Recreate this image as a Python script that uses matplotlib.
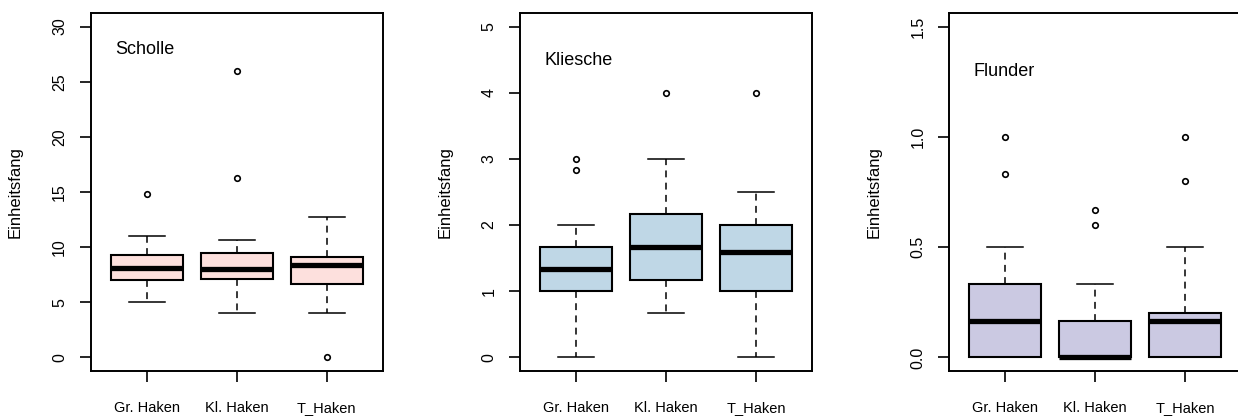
import numpy as np
import matplotlib.pyplot as plt

plt.rcParams['font.family'] = ['Liberation Sans', 'DejaVu Sans']

stellen = ['Gr. Haken', 'Kl. Haken', 'T_Haken']

# Scholle
scholle_q1 = [7.0, 7.13, 6.68]
scholle_med = [8.13, 8.0, 8.35]
scholle_q3 = [9.31, 9.46, 9.1]
scholle_lo = [5.0, 4.0, 4.0]
scholle_hi = [11.0, 10.64, 12.7]
scholle_out = [[14.8], [16.3, 26.0], [0.0]]

# Kliesche
kliesche_q1 = [1.0, 1.167, 1.0]
kliesche_med = [1.333, 1.667, 1.6]
kliesche_q3 = [1.667, 2.167, 2.0]
kliesche_lo = [0.0, 0.667, 0.0]
kliesche_hi = [2.0, 3.0, 2.5]
kliesche_out = [[2.833, 3.0], [4.0], [4.0]]

# Flunder
flunder_q1 = [0.0, 0.0, 0.0]
flunder_med = [0.167, 0.0, 0.167]
flunder_q3 = [0.333, 0.167, 0.2]
flunder_lo = [0.0, 0.0, 0.0]
flunder_hi = [0.5, 0.333, 0.5]
flunder_out = [[0.833, 1.0], [0.6, 0.667], [0.8, 1.0]]


def box_stats(q1, med, q3, lo, hi, out):
    stats = []
    for i in range(len(stellen)):
        stats.append({'q1': q1[i], 'med': med[i], 'q3': q3[i],
                      'whislo': lo[i], 'whishi': hi[i],
                      'fliers': np.array(out[i]), 'label': stellen[i]})
    return stats


def panel(ax, stats, farbe, name, ymax, yticks, ylabels, text_y):
    ax.bxp(stats, positions=[1, 2, 3], widths=0.8, capwidths=0.4,
           patch_artist=True, showfliers=True,
           boxprops=dict(facecolor=farbe, edgecolor='black', linewidth=1.5),
           medianprops=dict(color='black', linewidth=3.8, solid_capstyle='butt'),
           whiskerprops=dict(color='black', linewidth=1.1, linestyle=(0, (4.5, 3.5))),
           capprops=dict(color='black', linewidth=1.1),
           flierprops=dict(marker='o', markersize=4, markerfacecolor='none',
                           markeredgecolor='black', markeredgewidth=1.2))
    ax.set_xlim(0.38, 3.62)
    ax.set_ylim(-0.04 * ymax, 1.04 * ymax)
    ax.set_xticks([1, 2, 3])
    ax.set_xticklabels(stellen, fontsize=10.5)
    ax.set_yticks(yticks)
    ax.set_yticklabels(ylabels, fontsize=11.5, rotation=90, va='center')
    ax.tick_params(axis='x', length=8, width=1.2, pad=13.5)
    ax.tick_params(axis='y', length=8, width=1.2, pad=9)
    for sp in ax.spines.values():
        sp.set_linewidth(1.4)
    ax.set_ylabel('Einheitsfang', fontsize=12, va='center')
    ax.yaxis.set_label_coords(-0.258, 0.5)
    ax.text(0.65, text_y, name, fontsize=13, ha='left', va='center')


fig = plt.figure(figsize=(12.38, 4.16), dpi=100)
w, h, b = 292 / 1238, 357.4 / 416, 45.3 / 416
ax1 = fig.add_axes([90.7 / 1238, b, w, h])
ax2 = fig.add_axes([520 / 1238, b, w, h])
ax3 = fig.add_axes([949.3 / 1238, b, w, h])

panel(ax1, box_stats(scholle_q1, scholle_med, scholle_q3, scholle_lo, scholle_hi, scholle_out),
      '#FDE0DD', 'Scholle', 30, [0, 5, 10, 15, 20, 25, 30],
      ['0', '5', '10', '15', '20', '25', '30'], 27.9)
panel(ax2, box_stats(kliesche_q1, kliesche_med, kliesche_q3, kliesche_lo, kliesche_hi, kliesche_out),
      '#BFD7E6', 'Kliesche', 5, [0, 1, 2, 3, 4, 5],
      ['0', '1', '2', '3', '4', '5'], 4.48)
panel(ax3, box_stats(flunder_q1, flunder_med, flunder_q3, flunder_lo, flunder_hi, flunder_out),
      '#CBC9E2', 'Flunder', 1.5, [0, 0.5, 1.0, 1.5],
      ['0.0', '0.5', '1.0', '1.5'], 1.295)

fig.savefig('out.png', dpi=100, facecolor='white')
